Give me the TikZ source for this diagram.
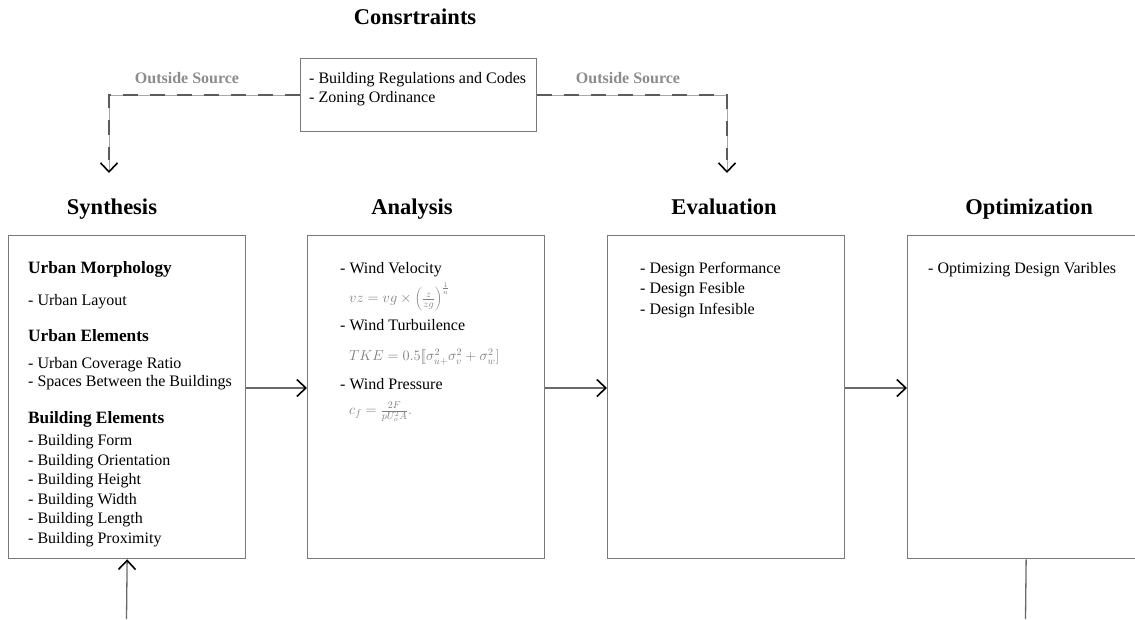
\documentclass[tikz,border=0pt]{standalone}
\usepackage{fontspec}
\setmainfont{Liberation Serif}
\usetikzlibrary{arrows.meta}

\definecolor{boxgray}{HTML}{7A7A7A}
\definecolor{linegray}{HTML}{6A6A6A}
\definecolor{labelgray}{HTML}{8C8C8C}
\definecolor{mathgray}{HTML}{7E7E7E}
\definecolor{dashgray}{HTML}{5C5C5C}
\definecolor{thingray}{HTML}{A8A8A8}

\tikzset{
  barb/.tip={Straight Barb[length=9pt,width=17pt,line width=1.6pt,color=black]},
  stagebox/.style={draw=boxgray,line width=1.3pt,rectangle,anchor=north west,
    minimum width=237pt,minimum height=323pt,inner sep=0pt},
  limitbox/.style={draw=boxgray,line width=1.3pt,rectangle,anchor=north west,
    minimum width=236pt,minimum height=73pt,inner sep=0pt},
  titletext/.style={font=\fontsize{22.5}{26}\selectfont\bfseries,anchor=west,
    inner sep=0pt,text height=0.66em,text depth=0pt},
  headtext/.style={font=\fontsize{17.3}{20}\selectfont\bfseries,anchor=west,
    inner sep=0pt,text height=0.66em,text depth=0pt},
  bodytext/.style={font=\fontsize{16}{19}\selectfont,anchor=west,
    inner sep=0pt,text height=0.66em,text depth=0pt},
  mathtext/.style={font=\fontsize{14}{17}\selectfont,text=mathgray,anchor=west,inner sep=0pt},
  sourcetext/.style={font=\fontsize{16}{19}\selectfont\bfseries,text=labelgray,anchor=west,
    inner sep=0pt,text height=0.66em,text depth=0pt},
  flow/.style={draw=linegray,line width=1.3pt,-barb},
  plainflow/.style={draw=linegray,line width=1.3pt},
  dashbase/.style={draw=thingray,line width=0.9pt,-barb},
  dashover/.style={draw=dashgray,line width=2.2pt,dash pattern=on 15pt off 12pt},
}

\begin{document}
\begin{tikzpicture}[x=1pt,y=-1pt]
\useasboundingbox[fill=white] (0,0) rectangle (1135,619);

% constraints block
\node[titletext,anchor=center] (ttlcon) at (415,21) {Consrtraints};
\node[limitbox] (con) at (300,58) {};
\node[bodytext] (con1) at (309,80) {- Building Regulations and Codes};
\node[bodytext] (con2) at (309,99) {- Zoning Ordinance};

\node[sourcetext,anchor=center] (srcl) at (187,80) {Outside Source};
\node[sourcetext,anchor=center] (srcr) at (628,80) {Outside Source};

\coordinate (lt) at (109,173);
\coordinate (ltd) at (109,160);
\coordinate (rt) at (727,173);
\coordinate (rtd) at (727,160);
\draw[dashbase] (con.west |- 0,95) -| (lt);
\draw[dashbase] (con.east |- 0,95) -| (rt);
\draw[dashover] (con.west |- 0,95) -| (ltd);
\draw[dashover] (con.east |- 0,95) -| (rtd);

% stage titles
\node[titletext,anchor=center] (ttlsyn) at (112,211) {Synthesis};
\node[titletext,anchor=center] (ttlana) at (412,211) {Analysis};
\node[titletext,anchor=center] (ttleva) at (724,211) {Evaluation};
\node[titletext,anchor=center] (ttlopt) at (1029,211) {Optimization};

% stage boxes
\node[stagebox] (syn) at (8,235) {};
\node[stagebox] (ana) at (307,235) {};
\node[stagebox] (eva) at (607,235) {};
\node[stagebox] (opt) at (907,235) {};

% synthesis contents
\node[headtext] (s1) at (28,270) {Urban Morphology};
\node[bodytext] (s2) at (28,302) {- Urban Layout};
\node[headtext] (s3) at (28,338) {Urban Elements};
\node[bodytext] (s4) at (28,365) {- Urban Coverage Ratio};
\node[bodytext] (s5) at (28,383) {- Spaces Between the Buildings};
\node[headtext] (s6) at (28,420) {Building Elements};
\node[bodytext] (s7) at (28,442) {- Building Form};
\node[bodytext] (s8) at (28,462) {- Building Orientation};
\node[bodytext] (s9) at (28,481) {- Building Height};
\node[bodytext] (s10) at (28,501) {- Building Width};
\node[bodytext] (s11) at (28,520) {- Building Length};
\node[bodytext] (s12) at (28,540) {- Building Proximity};

% analysis contents
\node[bodytext] (a1) at (340,270) {- Wind Velocity};
\node[mathtext] (a2) at (349,297) {$vz = vg\times\left(\frac{z}{zg}\right)^{\frac{1}{a}}$};
\node[bodytext] (a3) at (340,327) {- Wind Turbuilence};
\node[mathtext] (a4) at (349,357) {$TKE = 0.5\big[\!\big[\sigma_{u+}^2\sigma_v^2+\sigma_w^2\big]$};
\node[bodytext] (a5) at (340,386) {- Wind Pressure};
\node[mathtext] (a6) at (349,412) {$c_f = \frac{2F}{pU_o^2A}.$};

% evaluation contents
\node[bodytext] (e1) at (640,270) {- Design Performance};
\node[bodytext] (e2) at (640,290.5) {- Design Fesible};
\node[bodytext] (e3) at (640,311) {- Design Infesible};

% optimization contents
\node[bodytext] (o1) at (928,270) {- Optimizing Design Varibles};

% flow between stages
\draw[flow] (syn.east |- 0,388) -- (ana.west |- 0,388);
\draw[flow] (ana.east |- 0,388) -- (eva.west |- 0,388);
\draw[flow] (eva.east |- 0,388) -- (opt.west |- 0,388);

\coordinate (inb) at (126.5,619);
\coordinate (outb) at (1025.5,619);
\draw[flow] (inb) -- (syn.south);
\draw[plainflow] (opt.south) -- (outb);
\end{tikzpicture}
\end{document}
